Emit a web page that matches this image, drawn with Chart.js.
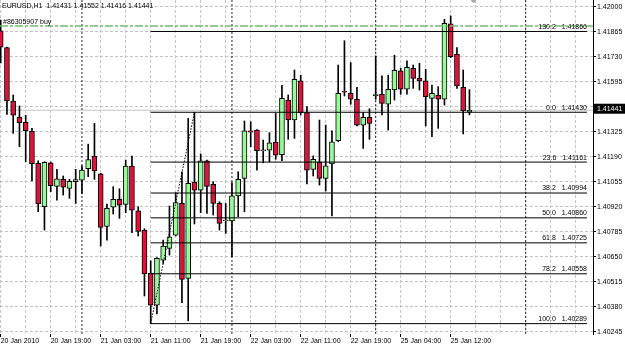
<!DOCTYPE html>
<html lang="en">
<head>
<meta charset="UTF-8">
<title>EURUSD,H1</title>
<script src="https://cdn.jsdelivr.net/npm/chart.js"></script>
<style>
  html, body { margin: 0; padding: 0; background: #fff; }
  canvas { display: block; }
</style>
</head>
<body>
<canvas id="fxChart" width="625" height="348"></canvas>
<script>
// EURUSD H1 bars, 20 Jan 2010 11:00 .. 25 Jan 2010 15:00 (index = bar number)
const symbolName = 'EURUSD,H1';
const opens  = [1.41870,1.41779,1.41491,1.41403,1.41376,1.41327,1.41154,1.40920,1.41157,1.41030,
                1.41068,1.41019,1.41055,1.41064,1.41125,1.41194,1.41097,1.40814,1.40917,1.40960,
                1.40933,1.41140,1.40898,1.40793,1.40560,1.40389,1.40632,1.40695,1.40766,1.40938,
                1.40533,1.41052,1.41010,1.41168,1.41041,1.40938,1.40843,1.40843,1.40979,1.41073,
                1.41330,1.41334,1.41222,1.41226,1.41269,1.41201,1.41496,1.41388,1.41599,1.41428,
                1.41122,1.41161,1.41073,1.41151,1.41276,1.41541,1.41532,1.41500,1.41360,1.41403,
                1.41520,1.41527,1.41473,1.41550,1.41653,1.41554,1.41667,1.41613,1.41599,1.41505,
                1.41523,1.41500,1.41907,1.41743,1.41565,1.41431];
const highs  = [1.41928,1.41782,1.41523,1.41464,1.41414,1.41343,1.41168,1.41163,1.41161,1.41122,
                1.41086,1.41068,1.41122,1.41141,1.41258,1.41370,1.41100,1.40935,1.41028,1.41017,
                1.41172,1.41194,1.40920,1.40801,1.40628,1.40645,1.40740,1.40924,1.40996,1.41109,
                1.41397,1.41430,1.41205,1.41172,1.41055,1.40947,1.40938,1.41050,1.41109,1.41383,
                1.41379,1.41336,1.41280,1.41320,1.41424,1.41576,1.41523,1.41658,1.41630,1.41460,
                1.41194,1.41388,1.41361,1.41330,1.41685,1.41816,1.41698,1.41565,1.41428,1.41449,
                1.41734,1.41626,1.41630,1.41738,1.41667,1.41707,1.41685,1.41694,1.41662,1.41577,
                1.41568,1.41932,1.41950,1.41779,1.41658,1.41552];
const lows   = [1.41696,1.41419,1.41316,1.41244,1.41163,1.41060,1.40893,1.40794,1.41001,1.40956,
                1.40983,1.40965,1.40938,1.40992,1.41082,1.41068,1.40708,1.40740,1.40881,1.40857,
                1.40888,1.40780,1.40762,1.40438,1.40289,1.40341,1.40614,1.40659,1.40762,1.40402,
                1.40304,1.40827,1.40888,1.40884,1.40875,1.40794,1.40776,1.40650,1.40866,1.40893,
                1.41244,1.41118,1.41157,1.41163,1.41176,1.41168,1.41284,1.41289,1.41415,1.41043,
                1.41086,1.41037,1.41005,1.40870,1.41271,1.41518,1.41473,1.41356,1.41235,1.41284,
                1.41500,1.41415,1.41334,1.41496,1.41527,1.41527,1.41559,1.41550,1.41356,1.41298,
                1.41343,1.41469,1.41725,1.41559,1.41313,1.41416];
const closes = [1.41781,1.41491,1.41414,1.41374,1.41330,1.41152,1.40935,1.41160,1.41034,1.41070,
                1.41025,1.41057,1.41066,1.41118,1.41174,1.41114,1.40809,1.40911,1.40960,1.40929,
                1.41140,1.40901,1.40787,1.40557,1.40389,1.40641,1.40708,1.40758,1.40942,1.40528,
                1.41046,1.41009,1.41168,1.41030,1.40938,1.40830,1.40845,1.40979,1.41068,1.41330,
                1.41323,1.41222,1.41222,1.41265,1.41198,1.41505,1.41388,1.41608,1.41428,1.41118,
                1.41176,1.41073,1.41141,1.41271,1.41532,1.41538,1.41500,1.41360,1.41403,1.41370,
                1.41526,1.41478,1.41554,1.41657,1.41554,1.41673,1.41613,1.41599,1.41514,1.41532,
                1.41500,1.41910,1.41730,1.41572,1.41438,1.41441];

// time axis: a label every 8 bars, grid every 4 bars
const xTickLabels = ['20 Jan 2010','20 Jan 19:00','21 Jan 03:00','21 Jan 11:00','21 Jan 19:00',
                     '22 Jan 03:00','22 Jan 11:00','22 Jan 19:00','25 Jan 04:00','25 Jan 12:00'];
const yTickValues = [1.42000,1.41865,1.41730,1.41595,1.41460,1.41325,1.41190,1.41055,
                     1.40920,1.40785,1.40650,1.40515,1.40380,1.40245];

// fibonacci retracement object
const fibRatios = [130.2, 0.0, 23.6, 38.2, 50.0, 61.8, 78.2, 100.0];
const fibPrices = [1.41866, 1.41430, 1.41161, 1.40994, 1.40860, 1.40725, 1.40558, 1.40289];
const fibFrom = 24, fibTo = 31, fibEnd = 93.8;

const daySeparators = [13, 37, 60, 84];
const orderTicket = '#86305907 buy';
const orderPrice = 1.41896;

const xMin = -0.112, xMax = 94.768;
const yMin = 1.40233, yMax = 1.42036;

const FONT = '"Liberation Sans", Arial, sans-serif';
const bidPrice = closes[closes.length - 1];

const idx = opens.map((_, i) => i);
const seg = (x1, y1, x2, y2) => [{x: x1, y: y1}, {x: x2, y: y2}];
const lineDs = (data, color, dash, width, order) => ({
    type: 'line', data, borderColor: color, borderDash: dash, borderWidth: width,
    pointRadius: 0, fill: false, tension: 0, order
});

const datasets = [];
// candle bodies
datasets.push({
    type: 'bar',
    data: idx.map(i => ({x: i, y: [opens[i], closes[i]]})),
    backgroundColor: idx.map(i => closes[i] >= opens[i] ? '#98fb98' : '#dc143c'),
    borderColor: '#000', borderWidth: 1, borderSkipped: false,
    barThickness: 5, minBarLength: 1, grouped: false, order: 2
});
// wicks
datasets.push({
    type: 'bar',
    data: idx.map(i => ({x: i, y: [lows[i], highs[i]]})),
    backgroundColor: '#000', borderWidth: 0,
    barThickness: 1, grouped: false, order: 3
});
// period separators + bid line (behind candles)
daySeparators.forEach(d => datasets.push(lineDs(seg(d, yMin, d, yMax), '#222', [2, 2], 1, 5)));
datasets.push(lineDs(seg(xMin, bidPrice, xMax, bidPrice), '#c4c4c4', [], 1, 5));
// fibo levels + trend line (foreground)
fibPrices.forEach(p => datasets.push(lineDs(seg(fibFrom, p, fibEnd, p), '#000', [], 1, 0)));
datasets.push(lineDs(seg(fibFrom, fibPrices[7], fibTo, fibPrices[1]), '#000', [1.5, 1.5], 1, 0));
// open order line
datasets.push(lineDs(seg(xMin, orderPrice, xMax, orderPrice), '#72bd72', [8, 2, 3, 2], 1.6, 0));

const overlay = {
    id: 'overlay',
    afterDraw(chart) {
        const {ctx, chartArea, scales: {x, y}} = chart;
        ctx.save();
        ctx.font = '7px ' + FONT;
        ctx.fillStyle = '#000';

        // fib labels
        ctx.textAlign = 'right';
        ctx.textBaseline = 'bottom';
        const fx = x.getPixelForValue(fibEnd);
        fibPrices.forEach((p, i) => {
            ctx.fillText(fibRatios[i].toFixed(1) + '   ' + p.toFixed(5), fx, y.getPixelForValue(p) - 1);
        });

        // header + order label
        ctx.textAlign = 'left';
        ctx.textBaseline = 'middle';
        const n = closes.length - 1;
        ctx.fillText(symbolName + '  ' + [opens[n], highs[n], lows[n], closes[n]].map(v => v.toFixed(5)).join(' '), 2, 6);
        ctx.fillText(orderTicket, 3, y.getPixelForValue(orderPrice) - 4);

        // current price box on the axis
        const by = y.getPixelForValue(bidPrice) - 1.5;
        ctx.fillStyle = '#000';
        ctx.fillRect(chartArea.right + 1, by - 5, chart.width - chartArea.right, 10);
        ctx.fillStyle = '#fff';
        ctx.fillText(bidPrice.toFixed(5), chartArea.right + 4, by);

        // chart shift marker
        const sx = x.getPixelForValue(n + 0.65);
        ctx.fillStyle = '#a8a8a8';
        ctx.beginPath();
        ctx.moveTo(sx - 3, 0); ctx.lineTo(sx + 3, 0); ctx.lineTo(sx, 3.5);
        ctx.closePath(); ctx.fill();
        ctx.restore();
    }
};

new Chart(document.getElementById('fxChart'), {
    type: 'bar',
    data: {datasets},
    plugins: [overlay],
    options: {
        responsive: false,
        animation: false,
        devicePixelRatio: 1,
        layout: {padding: 0},
        plugins: {legend: {display: false}, tooltip: {enabled: false}},
        scales: {
            x: {
                type: 'linear', min: xMin, max: xMax, offset: false,
                grid: {offset: false, color: '#c4c4c4', tickLength: 3,
                       tickColor: c => (c.tick && c.tick.value % 8 === 0 && c.tick.value / 8 < xTickLabels.length) ? '#000' : 'rgba(0,0,0,0)'},
                border: {display: false, dash: [3, 2]},
                ticks: {
                    autoSkip: false, maxRotation: 0, align: 'start', padding: 0,
                    color: '#000', font: {family: FONT, size: 7},
                    callback: v => (v % 8 === 0 && xTickLabels[v / 8] !== undefined) ? xTickLabels[v / 8] : ''
                },
                afterBuildTicks: s => {
                    const t = [];
                    for (let v = 0; v <= xMax; v += 4) t.push({value: v});
                    s.ticks = t;
                },
                afterFit: s => { s.height = 14; s.paddingLeft = 0; s.paddingRight = 0; }
            },
            y: {
                type: 'linear', position: 'right', min: yMin, max: yMax,
                grid: {color: '#c4c4c4', tickLength: 3, tickColor: '#000'},
                border: {display: true, color: '#000', width: 1, dash: [3, 2]},
                ticks: {
                    autoSkip: false, padding: 1, color: '#000', font: {family: FONT, size: 7},
                    callback: v => v.toFixed(5)
                },
                afterBuildTicks: s => { s.ticks = yTickValues.map(v => ({value: v})); },
                afterFit: s => { s.width = 32; s.paddingTop = 0; s.paddingBottom = 0; }
            }
        }
    }
});
</script>
</body>
</html>
